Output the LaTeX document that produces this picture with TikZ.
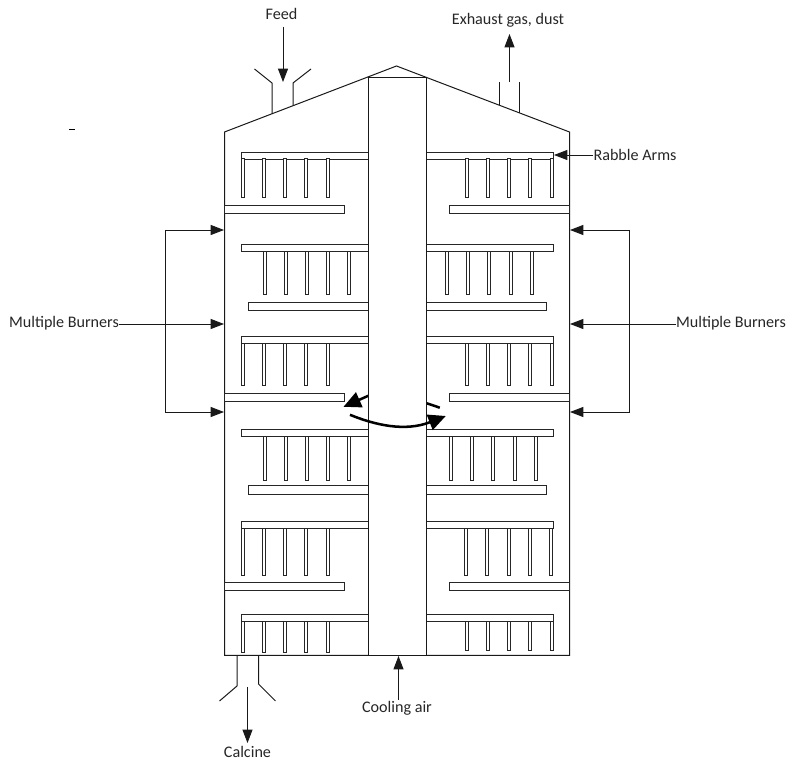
\documentclass[tikz,border=0pt]{standalone}
\usepackage{fontspec}
\setmainfont{Carlito}
\usetikzlibrary{arrows.meta}
\tikzset{
  x=0.75pt,y=-0.75pt,
  wall/.style={draw=black!90,line width=0.75pt,line join=miter},
  part/.style={draw=black!85,line width=0.7pt,fill=white},
  flow/.style={draw=black!90,line width=0.7pt,-{Triangle[length=10pt,width=7.5pt]}},
  spin/.style={draw=black,line width=1.9pt,line cap=butt,-{Triangle[length=13pt,width=12pt]}},
  label/.style={inner sep=0pt,font=\fontsize{12.1pt}{14pt}\selectfont,text=black!85}
}
\newcommand{\armL}[1]{\draw[part] (241.5,#1) rectangle (368.5,#1+7);}
\newcommand{\armR}[1]{\draw[part] (426,#1) rectangle (553,#1+7);}
\begin{document}
\begin{tikzpicture}
\useasboundingbox (0,0) rectangle (790,762);
% shell
\draw[wall] (224.5,655.5) -- (224.5,132) -- (396.5,66) -- (569.5,132) -- (569.5,655.5) -- cycle;
% nozzles
\draw[wall] (272,114) -- (272,83) -- (254.5,69);
\draw[wall] (293,105.7) -- (293,83) -- (311,69);
\draw[wall] (499.5,105.5) -- (499.5,82);
\draw[wall] (519.5,113) -- (519.5,82);
\draw[wall] (237,655.5) -- (237,686) -- (219.5,701);
\draw[wall] (258.5,655.5) -- (258.5,684) -- (275.5,701);
% arms
\foreach \y in {152,244,336.5,429.5,521.5,614}{\armL{\y}\armR{\y}}
% teeth
\foreach \y/\h/\xs in {
 158.5/197/{243,264,285,306,327.5,466.5,487.5,509,530,551.5},
 251/294/{264.5,285.5,306.5,327.5,349,447,468,489,510.5,531.5},
 343.5/385.5/{243,264,285,306,327.5,466.5,487.5,509,530,551.5},
 436/480/{264.5,285.5,306.5,327.5,349,451,472,493,514.5,535.5},
 528.5/575/{243,264,285,306,327.5,466,487,508.5,530,551},
 621/652.5/{243,264,285,306,327.5},
 621/650.5/{466.5,487.5,509,530,551.5}}{
  \foreach \x in \xs {\draw[part] (\x-1.5,\y) rectangle (\x+1.5,\h);}
}
% hearths
\foreach \y in {205,393,582}{
  \draw[part] (224.5,\y) rectangle (344,\y+8.5);
  \draw[part] (449.5,\y) rectangle (569.5,\y+8.5);
}
\foreach \y in {302,485.5}{
  \draw[part] (248.5,\y) rectangle (368.5,\y+8.5);
  \draw[part] (426,\y) rectangle (546.5,\y+8.5);
}
% rear spin stroke
\coordinate (spinA) at (368.5,395.7);
\coordinate (spinB) at (343.5,406.8);
\coordinate (spinC) at (439.8,407.7);
\coordinate (spinD) at (426.5,403.2);
\draw[spin] (spinA) -- (spinB);
\draw[draw=black,line width=1.9pt] (spinC) -- (spinD);
% shaft
\draw[wall,fill=white] (368.5,655.5) -- (368.5,78) -- (426,78) -- (426,655.5) -- cycle;
\draw[wall] (368.5,76.7) -- (368.5,78);
\draw[wall] (426,76.8) -- (426,78);
% front spin stroke
\coordinate (spinE) at (350,414.8);
\coordinate (spinF) at (445.8,416);
\draw[spin] (spinE) .. controls (375,425) and (405,432) .. (spinF);
% labels
\node[label] (feed) at (281.5,14) {Feed};
\node[label] (exhaust) at (508,20) {Exhaust gas, dust};
\node[label] (rabble) at (635,155) {Rabble Arms};
\node[label] (burnL) at (64,323) {Multiple Burners};
\node[label] (burnR) at (731,323) {Multiple Burners};
\node[label] (cool) at (397,708) {Cooling air};
\node[label] (calc) at (247.5,752) {Calcine};
% end points
\coordinate (feedS) at (283,27);
\coordinate (feedE) at (283,82);
\coordinate (exS) at (509.5,82);
\coordinate (exE) at (509.5,34);
\coordinate (caS) at (247.5,687);
\coordinate (caE) at (247.5,743);
\coordinate (coS) at (398.5,700);
\coordinate (coE) at (398.5,656);
\coordinate (raE) at (554,155);
\coordinate (lT) at (224,230);
\coordinate (lM) at (224,324);
\coordinate (lB) at (224,412);
\coordinate (rT) at (570,230);
\coordinate (rM) at (570,324);
\coordinate (rB) at (570,412);
\coordinate (lTb) at (165,230);
\coordinate (lBb) at (165,412);
\coordinate (rTb) at (629,230);
\coordinate (rBb) at (629,412);
\coordinate (tickA) at (69,129.5);
\coordinate (tickB) at (75,129.5);
% connectors
\draw[flow] (feedS) -- (feedE);
\draw[flow] (exS) -- (exE);
\draw[flow] (caS) -- (caE);
\draw[flow] (coS) -- (coE);
\draw[flow] (rabble.west) -- (raE);
\draw[flow] (lBb) -- (lTb) -- (lT);
\draw[flow] (lTb) -- (lBb) -- (lB);
\draw[flow] (rBb) -- (rTb) -- (rT);
\draw[flow] (rTb) -- (rBb) -- (rB);
\draw[flow] (burnL.east |- lM) -- (lM);
\draw[flow] (burnR.west |- rM) -- (rM);
\draw[draw=black,line width=0.9pt] (tickA) -- (tickB);
\end{tikzpicture}
\end{document}
